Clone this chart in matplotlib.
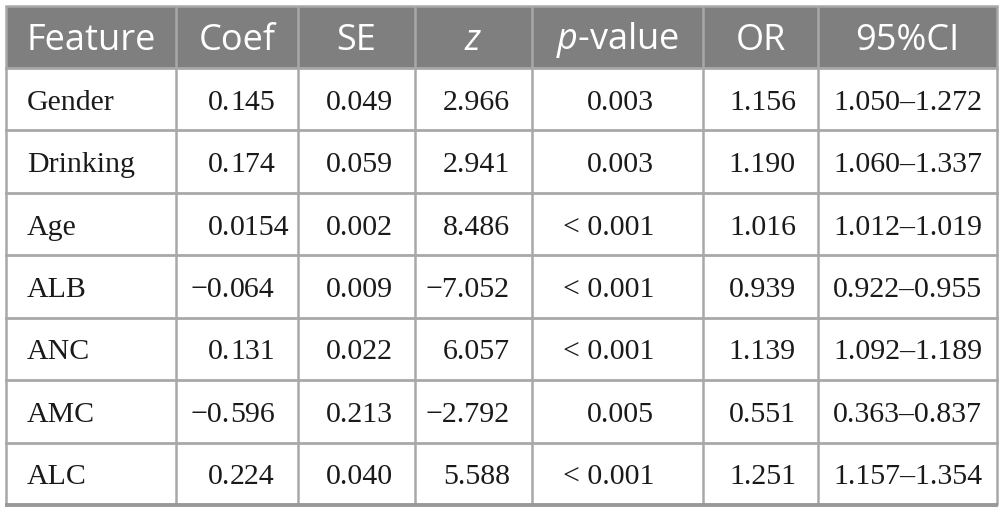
import matplotlib
matplotlib.use('Agg')
import matplotlib.pyplot as plt
from matplotlib.patches import Rectangle

plt.rcParams['mathtext.fontset'] = 'custom'
plt.rcParams['mathtext.rm'] = 'Open Sans'
plt.rcParams['mathtext.it'] = 'Open Sans:italic'

# table content
headers = ['Feature', 'Coef', 'SE', '$z$', '$p$-value', 'OR', '95%CI']
features = ['Gender', 'Drinking', 'Age', 'ALB', 'ANC', 'AMC', 'ALC']
coef = [0.145, 0.174, 0.0154, -0.064, 0.131, -0.596, 0.224]
se = [0.049, 0.059, 0.002, 0.009, 0.022, 0.213, 0.040]
zval = [2.966, 2.941, 8.486, -7.052, 6.057, -2.792, 5.588]
pval = ['0.003', '0.003', '< 0.001', '< 0.001', '< 0.001', '0.005', '< 0.001']
odds = [1.156, 1.190, 1.016, 0.939, 1.139, 0.551, 1.251]
ci_low = [1.050, 1.060, 1.012, 0.922, 1.092, 0.363, 1.157]
ci_high = [1.272, 1.337, 1.019, 0.955, 1.189, 0.837, 1.354]

# layout (pixels)
W, H = 1004, 513
col_edges = [6, 176, 298, 415, 532, 703, 818, 997]
top, head_bot, bottom = 6, 68, 505
row_h = (bottom - head_bot) / len(features)
body_fs = 21.5
head_fs = 26
digit_w = 0.5 * body_fs * 100 / 72
head_bg = '#7f7f7f'
line_c = '#a8a8a8'


def num(v, fmt='%.3f'):
    return (fmt % v).replace('-', '\u2212')


fig = plt.figure(figsize=(W / 100, H / 100), dpi=100)
ax = fig.add_axes([0, 0, 1, 1])
ax.set_xlim(0, W)
ax.set_ylim(H, 0)
ax.axis('off')

# header band
ax.add_patch(Rectangle((col_edges[0], top), col_edges[-1] - col_edges[0],
                       head_bot - top, facecolor=head_bg, edgecolor='none'))
for i, h in enumerate(headers):
    cx = (col_edges[i] + col_edges[i + 1]) / 2
    ax.text(cx, (top + head_bot) / 2 + 12.5, h, color='white', fontsize=head_fs,
            family='Open Sans', ha='center', va='baseline')

# grid lines
for x in col_edges:
    ax.plot([x, x], [top, bottom], color=line_c, lw=1.8, solid_capstyle='butt')
ax.plot([col_edges[0], col_edges[-1]], [top, top], color=line_c, lw=1.8)
for r in range(len(features)):
    y = head_bot + r * row_h
    ax.plot([col_edges[0], col_edges[-1]], [y, y], color=line_c, lw=2.0)
ax.plot([col_edges[0] - 1, col_edges[-1] + 1], [bottom, bottom], color='#999999', lw=2.8,
        solid_capstyle='butt')

# body text
txt = dict(fontsize=body_fs, family='Liberation Serif', color='#1a1a1a', va='baseline')
coef_dot = col_edges[2] - 23 - 3 * digit_w
for r in range(len(features)):
    yb = head_bot + (r + 0.5) * row_h + 10.5
    ax.text(col_edges[0] + 21, yb, features[r], ha='left', **txt)
    s = num(coef[r], '%.3g')
    ip, fp = s.split('.')
    ax.text(coef_dot, yb, ip + '.', ha='right', **txt)
    ax.text(coef_dot, yb, fp, ha='left', **txt)
    ax.text(col_edges[3] - 22, yb, num(se[r]), ha='right', **txt)
    ax.text(col_edges[4] - 22, yb, num(zval[r]), ha='right', **txt)
    ax.text(col_edges[5] - 49, yb, pval[r], ha='right', **txt)
    ax.text(col_edges[6] - 22, yb, num(odds[r]), ha='right', **txt)
    ax.text((col_edges[6] + col_edges[7]) / 2, yb,
            num(ci_low[r]) + '\u2013' + num(ci_high[r]), ha='center', **txt)

fig.savefig('out.png', dpi=100)
